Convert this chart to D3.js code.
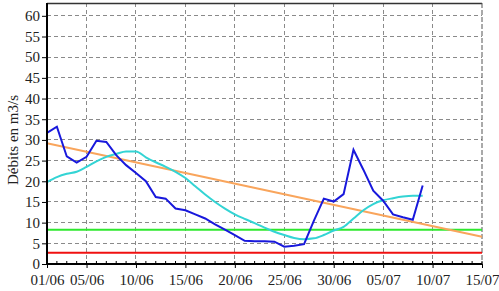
<!DOCTYPE html>
<html>
<head>
	<meta charset="utf-8">
	<script src="https://cdn.jsdelivr.net/npm/d3@7"></script>
	<style>
		body { margin: 0; background: #fff; }
		.grid line { stroke: #8a8a8a; stroke-dasharray: 4,3; shape-rendering: crispEdges; }
	</style>
</head>
<body>
<script>
	var width = 499, height = 291;
	var padding = {left: 47, right: 17, top: 3, bottom: 27};
	var police = "'Liberation Serif'";

	// jours : 01/06 -> 09/07
	var debut = new Date(2020, 5, 1);
	var fin = new Date(2020, 6, 15);

	// débit journalier (bleu)
	var debitJour = [31.7, 33.2, 26.0, 24.5, 25.9, 29.8, 29.5, 26.3, 23.9, 22.0,
		20.0, 16.2, 15.8, 13.4, 13.0, 12.0, 11.0, 9.6, 8.3, 7.0,
		5.6, 5.5, 5.5, 5.4, 4.2, 4.4, 4.8, 10.5, 15.8, 15.1,
		16.9, 27.6, 22.8, 17.7, 15.3, 12.0, 11.3, 10.7, 19.0];

	// débit moyen (cyan)
	var debitMoyen = [19.8, 21.0, 21.8, 22.3, 23.5, 24.8, 25.9, 26.6, 27.2, 27.2,
		25.8, 24.6, 23.5, 22.3, 20.8, 18.8, 16.8, 15.0, 13.4, 12.0,
		10.9, 9.9, 8.8, 7.8, 7.0, 6.3, 6.0, 6.2, 7.0, 8.1,
		9.0, 11.0, 13.0, 14.5, 15.4, 15.9, 16.3, 16.5, 16.5];

	// tendance (orange) : début et fin
	var tendanceDates = [new Date(2020, 5, 1), new Date(2020, 6, 15)];
	var tendanceValeurs = [29.2, 6.6];

	var seuilVert = 8.3;
	var seuilRouge = 2.7;

	var yTicks = [0, 5, 10, 15, 20, 25, 30, 35, 40, 45, 50, 55, 60];
	var xTickDates = [new Date(2020, 5, 1), new Date(2020, 5, 5), new Date(2020, 5, 10), new Date(2020, 5, 15),
		new Date(2020, 5, 20), new Date(2020, 5, 25), new Date(2020, 5, 30), new Date(2020, 6, 5),
		new Date(2020, 6, 10), new Date(2020, 6, 15)];

	var jours = debitJour.map(function(d, i){ return d3.timeDay.offset(debut, i); });

	var xscale = d3.scaleTime()
		.domain([debut, fin])
		.range([padding.left, width - padding.right]);
	var yscale = d3.scaleLinear()
		.domain([0, 63.1])
		.range([height - padding.bottom, padding.top]);

	var x0 = padding.left, x1 = width - padding.right;
	var y0 = height - padding.bottom, y1 = padding.top;

	var svg = d3.select("body").append("svg")
		.attr("width", width)
		.attr("height", height);

	// grille
	var grid = svg.append("g").attr("class", "grid");
	grid.selectAll(".h").data(yTicks.slice(1)).enter().append("line")
		.attr("x1", x0).attr("x2", x1)
		.attr("y1", function(d){ return yscale(d); })
		.attr("y2", function(d){ return yscale(d); });
	grid.selectAll(".v").data(xTickDates.slice(1, -1)).enter().append("line")
		.attr("y1", y1).attr("y2", y0)
		.attr("x1", function(d){ return xscale(d); })
		.attr("x2", function(d){ return xscale(d); });

	// cadre haut et droite
	svg.append("line").attr("x1", x0).attr("x2", x1).attr("y1", y1 + 0.5).attr("y2", y1 + 0.5)
		.attr("stroke", "#333").attr("stroke-width", 1.5);
	svg.append("line").attr("x1", x1).attr("x2", x1).attr("y1", y1).attr("y2", y0)
		.attr("stroke", "#555").attr("stroke-dasharray", "5,2");

	var line = d3.line()
		.x(function(d){ return xscale(d[0]); })
		.y(function(d){ return yscale(d[1]); });

	// seuils
	svg.append("path")
		.datum([[debut, seuilVert], [fin, seuilVert]])
		.attr("d", line).attr("fill", "none")
		.attr("stroke", "#2ee82e").attr("stroke-width", 2);
	svg.append("path")
		.datum([[debut, seuilRouge], [fin, seuilRouge]])
		.attr("d", line).attr("fill", "none")
		.attr("stroke", "#f01010").attr("stroke-width", 2);

	// tendance
	svg.append("path")
		.datum(tendanceDates.map(function(d, i){ return [d, tendanceValeurs[i]]; }))
		.attr("d", line).attr("fill", "none")
		.attr("stroke", "#f9a55c").attr("stroke-width", 2);

	// débit moyen
	svg.append("path")
		.datum(jours.map(function(d, i){ return [d, debitMoyen[i]]; }))
		.attr("d", line.curve(d3.curveMonotoneX)).attr("fill", "none")
		.attr("stroke", "#33d4d4").attr("stroke-width", 2);

	// débit journalier
	svg.append("path")
		.datum(jours.map(function(d, i){ return [d, debitJour[i]]; }))
		.attr("d", line.curve(d3.curveLinear)).attr("fill", "none")
		.attr("stroke", "#1818dc").attr("stroke-width", 2);

	// axes
	var yAxis = d3.axisLeft(yscale).tickValues(yTicks).tickSize(5).tickPadding(2);
	svg.append("g")
		.call(yAxis)
		.attr("transform", "translate(" + x0 + ",0)")
		.call(function(g){ g.select(".domain").remove(); });

	var xAxis = d3.axisBottom(xscale).tickValues(xTickDates).tickSize(4).tickPadding(6)
		.tickFormat(d3.timeFormat("%d/%m"));
	svg.append("g")
		.call(xAxis)
		.attr("transform", "translate(0," + y0 + ")")
		.call(function(g){ g.select(".domain").remove(); });

	svg.selectAll(".tick text")
		.style("font-family", police)
		.style("font-size", "15px")
		.attr("fill", "#222");

	// petites graduations journalières
	svg.append("g").selectAll("line")
		.data(d3.timeDay.range(debut, d3.timeDay.offset(fin, 1)))
		.enter().append("line")
		.attr("x1", function(d){ return xscale(d); })
		.attr("x2", function(d){ return xscale(d); })
		.attr("y1", y0).attr("y2", y0 - 3)
		.attr("stroke", "#000");

	svg.append("line").attr("x1", x0).attr("x2", x0).attr("y1", y1).attr("y2", y0 + 1)
		.attr("stroke", "#000").attr("stroke-width", 2);
	svg.append("line").attr("x1", x0 - 1).attr("x2", x1).attr("y1", y0).attr("y2", y0)
		.attr("stroke", "#000").attr("stroke-width", 2);

	svg.append("text")
		.attr("transform", "translate(18," + 140 + ") rotate(-90)")
		.attr("text-anchor", "middle")
		.style("font-family", police)
		.style("font-size", "15px")
		.attr("fill", "#222")
		.text("Débits en m3/s");
</script>
</body>
</html>
